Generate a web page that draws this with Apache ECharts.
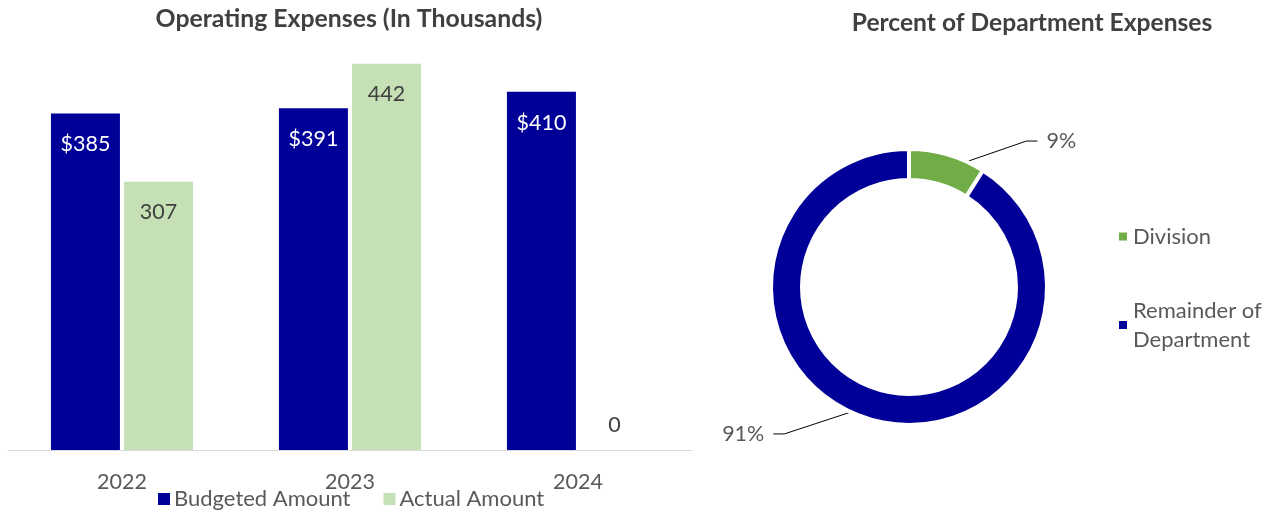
<!DOCTYPE html>
<html>
<head>
<meta charset="utf-8">
<script src="https://cdn.jsdelivr.net/npm/echarts@6/dist/echarts.min.js"></script>
<style>
  html, body { margin: 0; padding: 0; background: #ffffff; }
  #chart { width: 1276px; height: 516px; }
</style>
</head>
<body>
<div id="chart"></div>
<script>
// Operating expenses by fiscal year (in thousands)
const years = ['2022', '2023', '2024'];
const budgeted = [385, 391, 410];
const actual = [307, 442, 0];

// Share of department expenses
const shareNames = ['Division', 'Remainder of Department'];
const shareValues = [9, 91];

const NAVY = '#000099';
const LIGHT_GREEN = '#C5E0B4';
const GREEN = '#70AD47';
const FONT = 'Lato, "Open Sans", sans-serif';

const chart = echarts.init(document.getElementById('chart'), null, { renderer: 'canvas' });

const shareData = shareNames.map((n, i) => ({ name: n, value: shareValues[i] }));

const option = {
  animation: false,
  backgroundColor: '#ffffff',
  textStyle: { fontFamily: FONT },
  title: [
    {
      text: 'Operating Expenses (In Thousands)',
      left: 344, top: 2, textAlign: 'center',
      textStyle: { fontFamily: FONT, fontSize: 24.8, fontWeight: 'bold', color: '#404040' }
    },
    {
      text: 'Percent of Department Expenses',
      left: 1027, top: 6, textAlign: 'center',
      textStyle: { fontFamily: FONT, fontSize: 24.6, fontWeight: 'bold', color: '#404040' }
    }
  ],
  legend: [
    {
      data: ['Budgeted Amount', 'Actual Amount'],
      left: 153, top: 483,
      icon: 'rect', itemWidth: 12, itemHeight: 12, itemGap: 33,
      textStyle: { fontFamily: FONT, fontSize: 22, color: '#595959', padding: [0, 0, 0, -1] }
    },
    {
      data: shareNames,
      orient: 'vertical',
      left: 1112, top: 217,
      icon: 'rect', itemWidth: 10, itemHeight: 10, itemGap: 45,
      formatter: n => n === 'Remainder of Department' ? 'Remainder of\nDepartment' : n,
      textStyle: { fontFamily: FONT, fontSize: 22, color: '#595959', lineHeight: 29 }
    }
  ],
  grid: { left: 8, width: 684, top: 13, bottom: 66, containLabel: false },
  xAxis: {
    type: 'category',
    data: years,
    axisLine: { show: true, lineStyle: { color: '#D9D9D9', width: 1 } },
    axisTick: { show: false },
    axisLabel: { fontFamily: FONT, fontSize: 21.5, color: '#595959', margin: 21 }
  },
  yAxis: {
    type: 'value', min: 0, max: 500, show: false,
    splitLine: { show: false }
  },
  series: [
    {
      name: 'Budgeted Amount',
      type: 'bar',
      data: budgeted,
      barWidth: 69,
      barGap: '6%',
      itemStyle: { color: NAVY },
      label: {
        show: true, position: 'insideTop', distance: 20,
        formatter: p => '$' + p.value,
        fontFamily: FONT, fontSize: 21.5, color: '#ffffff'
      }
    },
    {
      name: 'Actual Amount',
      type: 'bar',
      data: actual.map(v => v === 0
        ? { value: v, label: { position: 'top', distance: 14 } }
        : v),
      barWidth: 69,
      barGap: '6%',
      itemStyle: { color: LIGHT_GREEN },
      label: {
        show: true, position: 'insideTop', distance: 19,
        fontFamily: FONT, fontSize: 21.5, color: '#404040'
      }
    },
    {
      // donut ring
      name: 'Department',
      type: 'pie',
      center: [909, 287],
      radius: [107, 138],
      startAngle: 90,
      clockwise: true,
      avoidLabelOverlap: false,
      data: shareData.map((d, i) => ({ ...d, itemStyle: { color: i === 0 ? GREEN : NAVY } })),
      itemStyle: { borderColor: '#ffffff', borderWidth: 4 },
      label: { show: false },
      labelLine: { show: false },
      emphasis: { disabled: true },
      silent: true
    },
    {
      // invisible companion ring carrying the percentage callouts from mid-ring
      name: 'Share labels',
      type: 'pie',
      center: [909, 287],
      radius: [0, 122],
      startAngle: 90,
      clockwise: true,
      avoidLabelOverlap: false,
      data: shareData.map((d, i) => ({
        ...d,
        labelLine: i === 0 ? { length: 30, length2: 86 } : { length: 31, length2: 93 }
      })),
      itemStyle: { color: 'rgba(0,0,0,0)' },
      label: {
        show: true, position: 'outside',
        formatter: p => Math.round(p.percent) + '%',
        fontFamily: FONT, fontSize: 21.5, color: '#595959',
        distanceToLabelLine: 9
      },
      labelLine: { show: true, lineStyle: { color: '#000000', width: 1 } },
      labelLayout: params => {
        const pts = params.labelLinePoints;
        if (!pts || pts.length < 3) return {};
        const end = pts[2];
        const dir = end[0] > pts[0][0] ? 1 : -1;
        return { labelLinePoints: [pts[0], [end[0] - dir * 11, end[1]], end] };
      },
      emphasis: { disabled: true },
      silent: true
    }
  ]
};

chart.setOption(option);
</script>
</body>
</html>
